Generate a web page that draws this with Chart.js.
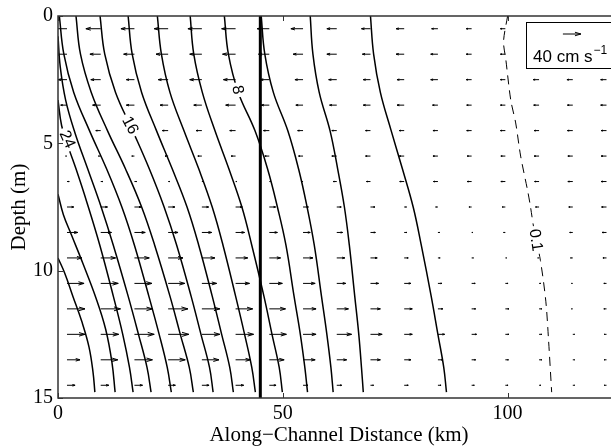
<!DOCTYPE html>
<html>
<head>
<meta charset="utf-8">
<script src="https://cdn.jsdelivr.net/npm/chart.js@4/dist/chart.umd.min.js"></script>
<style>
html,body{margin:0;padding:0;background:#fff;overflow:hidden;}
canvas{display:block;}
</style>
</head>
<body>
<canvas id="chart" width="680" height="446"></canvas>
<script>
// vector grid (km along channel, m depth)
var distance = [2, 9.5, 17, 24.5, 32, 39.5, 47, 54.5, 62, 69.5, 77, 84.5, 92, 99.5, 107, 114.5, 122];
var depth = [0.5, 1.5, 2.5, 3.5, 4.5, 5.5, 6.5, 7.5, 8.5, 9.5, 10.5, 11.5, 12.5, 13.5, 14.5];

// along-channel velocity, cm/s (negative = toward the mouth)
var u01 = [-33, -33, -30, -31, -31, -31, -27, -27, -22, -20, -18, -14, -12, -11, -14, -13, -14];
var u02 = [-27, -24, -24, -27, -27, -29, -24, -22, -22, -18, -18, -16, -12, -11, -13, -13, -13];
var u03 = [-20, -22, -18, -22, -27, -27, -20, -18, -18, -16, -16, -16, -12, -11, -13, -13, -13];
var u04 = [-14, -18, -18, -18, -18, -22, -18, -16, -16, -16, -16, -12, -11, -11, -12, -12, -13];
var u05 = [-8, -11, -11, -13, -13, -13, -13, -12, -11, -11, -11, -11, -11, -11, -11, -12, -12];
var u06 = [-3, -5, -6, -7, -9, -10, -10, -10, -11, -11, -11, -11, -10, -10, -11, -11, -12];
var u07 = [5, 5, 5, 4, 4, 3, 3, -3, -8, -9, -10, -10, -10, -10, -10, -11, -12];
var u08 = [15, 15, 15, 15, 15, 15, 14, 12, 10, 10, 5, -5, -6, -7, -8, -9, -11];
var u09 = [24, 24, 24, 22, 22, 20, 18, 16, 13, 11, 6, 4, 3, -4, -5, -7, -10];
var u10 = [33, 33, 33, 33, 29, 27, 25, 22, 18, 15, 9, 5, 4, 3, -3, -5, -8];
var u11 = [38, 39, 39, 37, 33, 31, 29, 27, 20, 18, 15, 9, 8, 6, 4, -3, -6];
var u12 = [40, 44, 40, 44, 40, 38, 36, 29, 26, 22, 18, 11, 9, 8, 6, -3, -6];
var u13 = [40, 40, 44, 46, 40, 40, 38, 29, 33, 26, 18, 15, 11, 8, 6, 4, -5];
var u14 = [29, 38, 40, 38, 38, 33, 33, 27, 22, 22, 15, 11, 9, 7, 6, 4, -5];
var u15 = [18, 18, 18, 16, 16, 18, 15, 11, 11, 7, 9, 7, 6, 6, 4, 4, -5];
var velocity = [u01, u02, u03, u04, u05, u06, u07, u08, u09, u10, u11, u12, u13, u14, u15];

// isohalines, [km, depth m]
var s2 = [[69.5,0],[70.2,1.5],[71.7,3],[74.1,4.5],[76.6,6],[79,7.5],[80.8,9],[83,11],[84.5,12.5],[85.8,13.8],[86.4,14.77]];
var s4 = [[56.1,0],[56.7,1.5],[58.1,3],[60.5,4.5],[62.2,6],[63.7,7.5],[64.8,9],[66,11],[66.9,12.5],[67.5,13.8],[67.9,14.77]];
var s6 = [[45.2,0],[46,1.5],[47.9,3],[51.1,4.5],[53.5,6],[55.4,7.5],[57,9],[58.6,11],[59.8,12.5],[60.7,13.8],[61.2,14.77]];
var s8 = [[37,0],[37.9,1.5],[40.1,3],[43.8,4.5],[46.6,6],[48.8,7.5],[50.7,9],[52.5,11],[53.9,12.5],[54.9,13.8],[55.5,14.77]];
var s10 = [[29.4,0],[30.2,1.5],[32.1,3],[34.9,4.5],[38,6],[40.9,7.5],[43.1,9],[45.8,11],[47.6,12.5],[49.2,13.8],[49.9,14.77]];
var s12 = [[22.1,0],[23,1.5],[24.9,3],[28,4.5],[31.3,6],[34.3,7.5],[36.7,9],[39.5,11],[41.5,12.5],[43.1,13.8],[43.9,14.77]];
var s14 = [[15.6,0],[16.5,1.5],[18.6,3],[21.9,4.5],[25.4,6],[28.7,7.5],[31.3,9],[34.3,11],[36.4,12.5],[38.2,13.8],[39,14.77]];
var s16 = [[9.35,0],[10.4,1.5],[12.8,3],[16.6,4.5],[20.3,6],[23.6,7.5],[26.4,9],[29.6,11],[31.8,12.5],[33.7,13.8],[34.5,14.77]];
var s18 = [[4,0],[5,1.5],[7.4,3],[11,4.5],[15,6],[18.6,7.5],[21.5,9],[24.9,11],[27.2,12.5],[29.2,13.8],[30.1,14.77]];
var s20 = [[0.3,0],[1.3,1.5],[3.5,3],[7,4.5],[10.8,6],[14.2,7.5],[17,9],[20.2,11],[22.5,12.5],[24.3,13.8],[25.2,14.77]];
var s22 = [[0,0.8],[0.5,2],[1.7,3.3],[3.8,4.6],[6.6,6],[9.6,7.5],[12.3,9],[15.6,11],[17.9,12.5],[19.8,13.8],[20.7,14.77]];
var s24 = [[0,3.3],[0.8,4.3],[2.2,5.1],[4,6],[6.4,7.3],[9.3,9],[12.3,11],[14.4,12.5],[15.9,13.8],[16.7,14.77]];
var s26 = [[0,7],[1.2,7.8],[3,8.6],[5.5,9.7],[8.5,11.1],[10.6,12.3],[12,13.6],[12.7,14.77]];
var s28 = [[0,9.5],[1.5,10.1],[3.3,11],[5.3,12],[6.9,13],[7.8,14],[8.2,14.77]];
var isohalines = [s2, s4, s6, s8, s10, s12, s14, s16, s18, s20, s22, s24, s26, s28];
var s01 = [[100,0],[99.1,1],[99.6,1.7],[100.7,3.3],[101.8,4.2],[102.9,5.5],[104.5,6.9],[105.1,7.5],[105.8,8.3],[107.3,9.6],[108.5,11.2],[109.1,12.7],[109.8,14.77]];
var frontKm = 45;

var labelText = ['24', '16', '8', '0.1'];
var labelKm = [2.0, 16.0, 39.9, 106.2];
var labelDepth = [4.85, 4.3, 2.9, 8.8];
var labelAngle = [66, 62, 80, 82];

var xTicks = [0, 50, 100];
var yTicks = [0, 5, 10, 15];
var scaleSpeed = 40;   // cm/s in key
var kmPerCms = 0.1;    // arrow length in km for 1 cm/s

function pts(a) { return a.map(function (p) { return {x: p[0], y: p[1]}; }); }

var datasets = isohalines.map(function (c) {
  return {data: pts(c), showLine: true, borderColor: '#000', borderWidth: 1.5, pointRadius: 0, tension: 0.4, fill: false};
});
datasets.push({data: pts(s01), showLine: true, borderColor: '#000', borderWidth: 1, borderDash: [9, 6], pointRadius: 0, tension: 0.3});
datasets.push({data: [{x: frontKm, y: 0}, {x: frontKm, y: 15}], showLine: true, borderColor: '#000', borderWidth: 3, pointRadius: 0});

function arrow(ctx, x0, y0, x1) {
  var d = x1 - x0;
  ctx.moveTo(x0, y0); ctx.lineTo(x1, y0);
  ctx.moveTo(x1 - 0.33 * d, y0 - 0.33 * 0.3 * d); ctx.lineTo(x1, y0);
  ctx.lineTo(x1 - 0.33 * d, y0 + 0.33 * 0.3 * d);
}

var extras = {
  id: 'extras',
  afterDatasetsDraw: function (chart) {
    var ctx = chart.ctx, xs = chart.scales.x, ys = chart.scales.y, a = chart.chartArea;
    ctx.save();
    ctx.beginPath(); ctx.rect(a.left, a.top, a.right - a.left, a.bottom - a.top); ctx.clip();
    // vectors
    ctx.strokeStyle = '#000'; ctx.lineWidth = 1;
    ctx.beginPath();
    depth.forEach(function (d, r) {
      distance.forEach(function (km, k) {
        var u = velocity[r][k];
        var x0 = xs.getPixelForValue(km), x1 = xs.getPixelForValue(km + u * kmPerCms);
        arrow(ctx, x0, ys.getPixelForValue(d), x1);
      });
    });
    ctx.stroke();
    // contour labels
    ctx.font = '16px "Liberation Sans", Arial, sans-serif';
    ctx.textAlign = 'center'; ctx.textBaseline = 'middle';
    labelText.forEach(function (t, i) {
      var px = xs.getPixelForValue(labelKm[i]), py = ys.getPixelForValue(labelDepth[i]);
      ctx.save(); ctx.translate(px, py); ctx.rotate(labelAngle[i] * Math.PI / 180);
      var w = ctx.measureText(t).width;
      ctx.fillStyle = '#fff'; ctx.fillRect(-w / 2 - 3, -7, w + 6, 14);
      ctx.fillStyle = '#000'; ctx.fillText(t, 0, 0);
      ctx.restore();
    });
    // key
    var bx = 526, by = 22;
    ctx.fillStyle = '#fff'; ctx.fillRect(bx, by, 88, 46);
    ctx.strokeStyle = '#000'; ctx.lineWidth = 1; ctx.strokeRect(bx + 0.5, by + 0.5, 88, 46);
    var kx0 = xs.getPixelForValue(112.3), kx1 = xs.getPixelForValue(112.3 + scaleSpeed * kmPerCms);
    ctx.beginPath(); arrow(ctx, kx0, by + 12, kx1); ctx.stroke();
    ctx.fillStyle = '#000'; ctx.textAlign = 'left'; ctx.textBaseline = 'alphabetic';
    ctx.font = '17px "Liberation Sans", Arial, sans-serif';
    ctx.fillText('40 cm s', bx + 7, by + 40);
    var tw = ctx.measureText('40 cm s').width;
    ctx.font = '12px "Liberation Sans", Arial, sans-serif';
    ctx.fillText('\u22121', bx + 8 + tw, by + 32);
    ctx.restore();
    // frame and inward ticks
    ctx.save();
    ctx.strokeStyle = '#333'; ctx.lineWidth = 1.5;
    ctx.strokeRect(a.left, a.top, a.right - a.left, a.bottom - a.top);
    ctx.lineWidth = 1; ctx.beginPath();
    xTicks.forEach(function (v) {
      var p = Math.round(xs.getPixelForValue(v)) + 0.5;
      ctx.moveTo(p, a.bottom); ctx.lineTo(p, a.bottom - 5);
      ctx.moveTo(p, a.top); ctx.lineTo(p, a.top + 5);
    });
    yTicks.forEach(function (v) {
      var p = Math.round(ys.getPixelForValue(v)) + 0.5;
      ctx.moveTo(a.left, p); ctx.lineTo(a.left + 5, p);
    });
    ctx.stroke();
    ctx.restore();
  }
};

var serif = {family: '"Liberation Serif", "Times New Roman", serif', size: 20, lineHeight: 1};
var serifTitle = {family: '"Liberation Serif", "Times New Roman", serif', size: 21, lineHeight: 1};

new Chart(document.getElementById('chart'), {
  type: 'scatter',
  data: {datasets: datasets},
  options: {
    responsive: false,
    animation: false,
    devicePixelRatio: 1,
    layout: {padding: {top: 16, right: 60, left: 0, bottom: 0}},
    plugins: {legend: {display: false}, tooltip: {enabled: false}},
    scales: {
      x: {
        type: 'linear', min: 0, max: 125,
        grid: {display: false, drawTicks: false}, border: {display: false},
        afterBuildTicks: function (s) { s.ticks = xTicks.map(function (v) { return {value: v}; }); },
        afterFit: function (s) { s.height = 48; },
        ticks: {color: '#000', font: serif, padding: 6, maxRotation: 0},
        title: {display: true, text: 'Along\u2212Channel Distance (km)', color: '#000', font: serifTitle, padding: 0}
      },
      y: {
        type: 'linear', min: 0, max: 15, reverse: true,
        grid: {display: false, drawTicks: false}, border: {display: false},
        afterBuildTicks: function (s) { s.ticks = yTicks.map(function (v) { return {value: v}; }); },
        afterFit: function (s) { s.width = 58; },
        ticks: {color: '#000', font: serif, padding: 5},
        title: {display: true, text: 'Depth (m)', color: '#000', font: serifTitle, padding: {top: 9, bottom: 0}}
      }
    }
  },
  plugins: [extras]
});
</script>
</body>
</html>
